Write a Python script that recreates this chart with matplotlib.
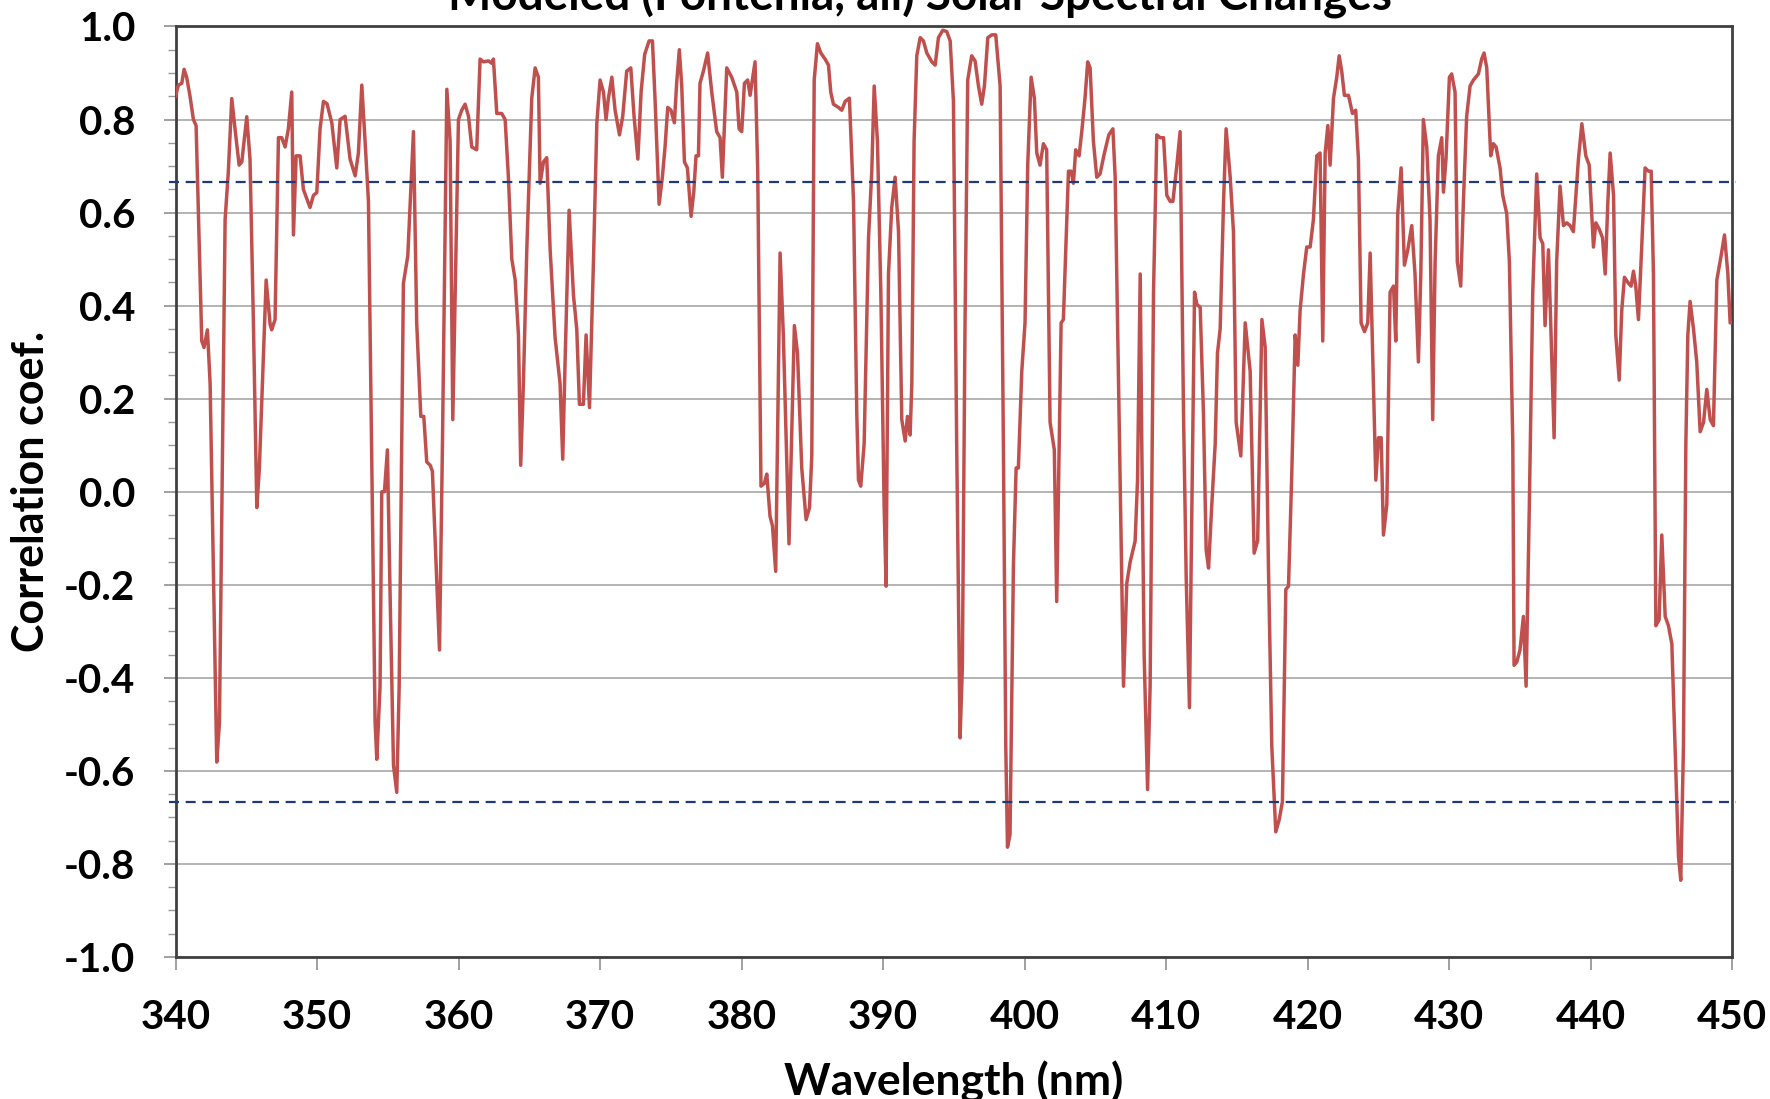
import matplotlib
matplotlib.use("Agg")
import matplotlib.pyplot as plt
from matplotlib.ticker import MultipleLocator

plt.rcParams['font.family'] = ['Lato', 'DejaVu Sans']
plt.rcParams['font.weight'] = 'bold'

# wavelength (nm) and correlation coefficient of the modeled spectral changes
wavelength = [
    340.0, 340.2, 340.44, 340.6, 340.79, 341.02, 341.26, 341.45, 341.85, 342.01,
    342.25, 342.44, 342.91, 343.1, 343.5, 343.73, 343.97, 344.2, 344.49, 344.68,
    345.03, 345.26, 345.5, 345.74, 345.92, 346.4, 346.68, 346.79, 347.03, 347.27,
    347.5, 347.74, 347.97, 348.21, 348.33, 348.52, 348.8, 349.03, 349.27, 349.5,
    349.74, 349.98, 350.21, 350.45, 350.7, 351.04, 351.39, 351.63, 351.98, 352.33,
    352.69, 352.92, 353.16, 353.39, 353.63, 354.1, 354.22, 354.45, 354.57, 354.76,
    354.97, 355.16, 355.4, 355.63, 355.8, 356.1, 356.41, 356.81, 357.04, 357.33,
    357.54, 357.75, 357.99, 358.15, 358.65, 358.86, 359.17, 359.4, 359.59, 359.99,
    360.22, 360.46, 360.7, 360.93, 361.28, 361.52, 361.76, 362.11, 362.34, 362.46,
    362.7, 363.05, 363.29, 363.52, 363.76, 364.0, 364.23, 364.39, 364.58, 364.82,
    365.17, 365.41, 365.64, 365.76, 366.0, 366.23, 366.47, 366.82, 367.17, 367.36,
    367.53, 367.81, 368.12, 368.35, 368.54, 368.82, 369.01, 369.25, 369.53, 369.77,
    370.0, 370.24, 370.42, 370.59, 370.83, 371.06, 371.37, 371.6, 371.88, 372.17,
    372.4, 372.67, 372.9, 373.15, 373.46, 373.7, 373.88, 374.17, 374.4, 374.59,
    374.78, 375.01, 375.25, 375.41, 375.6, 375.77, 375.96, 376.17, 376.43, 376.62,
    376.78, 376.95, 377.06, 377.3, 377.6, 377.89, 378.24, 378.48, 378.64, 378.95,
    379.3, 379.66, 379.82, 380.01, 380.2, 380.43, 380.6, 380.76, 380.95, 381.14,
    381.37, 381.61, 381.78, 382.01, 382.18, 382.41, 382.72, 382.95, 383.35, 383.73,
    383.95, 384.25, 384.56, 384.8, 384.96, 385.13, 385.36, 385.6, 385.9, 386.14,
    386.3, 386.49, 386.85, 387.08, 387.32, 387.62, 387.91, 388.14, 388.26, 388.42,
    388.66, 388.97, 389.2, 389.37, 389.6, 389.84, 390.07, 390.21, 390.38, 390.61,
    390.85, 391.09, 391.32, 391.56, 391.72, 391.91, 392.03, 392.19, 392.38, 392.62,
    392.85, 393.09, 393.44, 393.68, 393.91, 394.22, 394.5, 394.74, 394.97, 395.2,
    395.44, 395.6, 395.79, 395.98, 396.26, 396.5, 396.74, 396.97, 397.16, 397.4,
    397.68, 397.96, 398.27, 398.5, 398.67, 398.79, 398.97, 399.21, 399.4, 399.56,
    399.8, 400.03, 400.22, 400.46, 400.69, 400.86, 401.09, 401.33, 401.56, 401.8,
    402.1, 402.27, 402.58, 402.74, 403.1, 403.28, 403.45, 403.61, 403.85, 404.04,
    404.27, 404.46, 404.63, 404.86, 405.1, 405.33, 405.64, 405.95, 406.24, 406.4,
    406.71, 406.99, 407.22, 407.46, 407.81, 407.98, 408.17, 408.28, 408.45, 408.69,
    408.87, 409.11, 409.34, 409.58, 409.82, 410.05, 410.29, 410.48, 410.76, 410.99,
    411.23, 411.42, 411.65, 411.77, 412.01, 412.17, 412.41, 412.64, 412.83, 413.0,
    413.23, 413.47, 413.63, 413.82, 414.06, 414.24, 414.53, 414.76, 414.95, 415.28,
    415.59, 415.94, 416.22, 416.47, 416.77, 417.0, 417.23, 417.47, 417.75, 417.99,
    418.22, 418.46, 418.65, 418.88, 419.12, 419.31, 419.47, 419.71, 419.94, 420.18,
    420.41, 420.65, 420.88, 421.07, 421.24, 421.43, 421.59, 421.83, 422.06, 422.23,
    422.41, 422.6, 422.89, 423.17, 423.4, 423.59, 423.78, 424.02, 424.25, 424.42,
    424.65, 424.82, 425.01, 425.2, 425.36, 425.6, 425.83, 426.07, 426.23, 426.37,
    426.61, 426.84, 427.08, 427.36, 427.59, 427.83, 428.0, 428.18, 428.42, 428.65,
    428.84, 429.01, 429.24, 429.48, 429.6, 429.78, 430.02, 430.18, 430.42, 430.58,
    430.82, 431.01, 431.24, 431.48, 431.72, 432.07, 432.3, 432.47, 432.66, 432.94,
    433.13, 433.32, 433.6, 433.79, 434.07, 434.26, 434.5, 434.59, 434.78, 435.01,
    435.25, 435.44, 435.67, 435.91, 436.19, 436.43, 436.62, 436.78, 437.02, 437.18,
    437.42, 437.6, 437.84, 438.08, 438.31, 438.55, 438.78, 439.14, 439.38, 439.66,
    439.9, 440.2, 440.37, 440.6, 440.84, 441.03, 441.22, 441.38, 441.62, 441.78,
    442.02, 442.2, 442.39, 442.68, 442.86, 443.03, 443.19, 443.38, 443.62, 443.85,
    444.09, 444.28, 444.44, 444.61, 444.84, 445.03, 445.27, 445.5, 445.74, 445.97,
    446.21, 446.37, 446.56, 446.73, 446.87, 447.03, 447.27, 447.5, 447.74, 447.98,
    448.21, 448.45, 448.68, 448.92, 449.22, 449.46, 449.7, 449.86, 450.0,
]
correlation = [
    0.85, 0.874, 0.878, 0.908, 0.89, 0.85, 0.80, 0.787, 0.324, 0.31,
    0.348, 0.233, -0.581, -0.496, 0.585, 0.689, 0.845, 0.78, 0.702, 0.709,
    0.806, 0.715, 0.363, -0.034, 0.05, 0.455, 0.36, 0.348, 0.37, 0.761,
    0.761, 0.741, 0.78, 0.859, 0.552, 0.722, 0.722, 0.65, 0.63, 0.611,
    0.637, 0.643, 0.78, 0.839, 0.834, 0.793, 0.696, 0.80, 0.807, 0.715,
    0.679, 0.728, 0.874, 0.754, 0.624, -0.496, -0.575, -0.418, 0.0, 0.0,
    0.09, -0.223, -0.588, -0.646, -0.418, 0.448, 0.507, 0.774, 0.363, 0.162,
    0.162, 0.064, 0.057, 0.044, -0.34, 0.103, 0.865, 0.754, 0.155, 0.80,
    0.82, 0.833, 0.807, 0.741, 0.735, 0.93, 0.924, 0.926, 0.921, 0.93,
    0.813, 0.813, 0.80, 0.676, 0.50, 0.455, 0.337, 0.057, 0.233, 0.52,
    0.846, 0.911, 0.891, 0.663, 0.709, 0.718, 0.52, 0.331, 0.233, 0.07,
    0.285, 0.605, 0.422, 0.35, 0.188, 0.188, 0.337, 0.181, 0.494, 0.793,
    0.885, 0.859, 0.80, 0.846, 0.891, 0.82, 0.767, 0.807, 0.904, 0.911,
    0.807, 0.715, 0.86, 0.94, 0.969, 0.969, 0.846, 0.618, 0.676, 0.741,
    0.826, 0.82, 0.793, 0.878, 0.95, 0.872, 0.709, 0.696, 0.592, 0.644,
    0.722, 0.722, 0.878, 0.904, 0.943, 0.859, 0.774, 0.761, 0.676, 0.911,
    0.891, 0.859, 0.78, 0.774, 0.878, 0.885, 0.852, 0.885, 0.924, 0.689,
    0.012, 0.018, 0.038, -0.053, -0.073, -0.171, 0.513, 0.337, -0.112, 0.357,
    0.298, 0.051, -0.06, -0.034, 0.077, 0.885, 0.963, 0.943, 0.93, 0.917,
    0.859, 0.833, 0.826, 0.82, 0.839, 0.846, 0.624, 0.168, 0.025, 0.012,
    0.103, 0.546, 0.689, 0.872, 0.754, 0.429, -0.027, -0.203, 0.468, 0.611,
    0.676, 0.559, 0.155, 0.109, 0.162, 0.122, 0.233, 0.754, 0.937, 0.976,
    0.969, 0.943, 0.924, 0.917, 0.976, 0.992, 0.989, 0.969, 0.84, 0.103,
    -0.529, -0.379, 0.363, 0.885, 0.937, 0.926, 0.872, 0.833, 0.872, 0.976,
    0.982, 0.982, 0.872, 0.103, -0.548, -0.764, -0.737, -0.158, 0.051, 0.051,
    0.259, 0.363, 0.702, 0.891, 0.846, 0.728, 0.702, 0.748, 0.735, 0.149,
    0.09, -0.236, 0.363, 0.37, 0.689, 0.689, 0.663, 0.735, 0.722, 0.774,
    0.846, 0.924, 0.911, 0.754, 0.676, 0.683, 0.728, 0.767, 0.78, 0.676,
    0.103, -0.418, -0.197, -0.151, -0.106, 0.025, 0.468, 0.103, -0.353, -0.64,
    -0.418, 0.429, 0.767, 0.761, 0.761, 0.637, 0.624, 0.624, 0.702, 0.774,
    0.168, -0.184, -0.464, -0.158, 0.429, 0.403, 0.396, 0.168, -0.125, -0.164,
    -0.027, 0.103, 0.298, 0.35, 0.624, 0.78, 0.676, 0.559, 0.149, 0.077,
    0.363, 0.259, -0.132, -0.105, 0.37, 0.311, -0.158, -0.548, -0.731, -0.705,
    -0.666, -0.21, -0.203, 0.038, 0.337, 0.272, 0.39, 0.468, 0.526, 0.526,
    0.585, 0.722, 0.728, 0.324, 0.728, 0.787, 0.702, 0.846, 0.891, 0.937,
    0.904, 0.852, 0.852, 0.813, 0.82, 0.715, 0.363, 0.344, 0.363, 0.513,
    0.233, 0.025, 0.116, 0.116, -0.093, -0.027, 0.429, 0.442, 0.324, 0.598,
    0.696, 0.487, 0.52, 0.572, 0.468, 0.279, 0.468, 0.80, 0.741, 0.585,
    0.155, 0.494, 0.722, 0.761, 0.644, 0.715, 0.891, 0.898, 0.859, 0.494,
    0.442, 0.624, 0.807, 0.872, 0.885, 0.898, 0.93, 0.943, 0.911, 0.722,
    0.748, 0.741, 0.696, 0.637, 0.598, 0.494, 0.103, -0.373, -0.366, -0.34,
    -0.268, -0.418, -0.027, 0.429, 0.683, 0.546, 0.533, 0.357, 0.52, 0.363,
    0.116, 0.494, 0.657, 0.572, 0.578, 0.572, 0.559, 0.715, 0.791, 0.722,
    0.702, 0.526, 0.578, 0.565, 0.546, 0.468, 0.624, 0.728, 0.637, 0.337,
    0.24, 0.39, 0.461, 0.448, 0.442, 0.474, 0.442, 0.37, 0.533, 0.696,
    0.689, 0.689, 0.468, -0.288, -0.275, -0.093, -0.268, -0.288, -0.327, -0.548,
    -0.783, -0.835, -0.548, 0.103, 0.337, 0.409, 0.35, 0.279, 0.129, 0.149,
    0.22, 0.155, 0.142, 0.455, 0.507, 0.552, 0.468, 0.363, 0.363,
]

# significance level drawn as dashed lines at +/- this value
threshold = 0.666
threshold_span = [339.5, 450.3]

fig = plt.figure(figsize=(17.7, 10.99), dpi=100)
ax = fig.add_axes([0.0992, 0.1292, 0.8794, 0.8467])

ax.grid(axis='y', color='#b3b3b3', linewidth=1.4, zorder=0)
ax.plot(wavelength, correlation, color='#c0504d', linewidth=2.5, zorder=3)
for level in (threshold, -threshold):
    ax.plot(threshold_span, [level, level], color='#1f3a7a', linewidth=1.6,
            dashes=(4.5, 3), clip_on=False, zorder=4)

ax.set_xlim(340, 450)
ax.set_ylim(-1.0, 1.0)
ax.xaxis.set_major_locator(MultipleLocator(10))
ax.yaxis.set_major_locator(MultipleLocator(0.2))
ax.yaxis.set_minor_locator(MultipleLocator(0.05))
ax.yaxis.set_major_formatter(matplotlib.ticker.FormatStrFormatter('%.1f'))

ax.tick_params(axis='both', which='major', direction='out', length=9, width=1.3,
               color='#999999', labelsize=29)
ax.tick_params(axis='y', which='minor', direction='out', length=6, width=1.0,
               color='#999999')
ax.tick_params(axis='y', which='major', pad=20)
ax.tick_params(axis='x', which='major', pad=21)
for label in ax.get_xticklabels() + ax.get_yticklabels():
    label.set_fontweight('bold')

for spine in ax.spines.values():
    spine.set_color('#404040')
    spine.set_linewidth(2.0)

ax.set_xlabel('Wavelength (nm)', fontsize=32, fontweight='bold', labelpad=18)
ax.set_ylabel('Correlation coef.', fontsize=31, fontweight='bold', labelpad=9)

fig.text(0.52, 1 - 9 / 1099, 'Modeled (Fontenla, all) Solar Spectral Changes',
         ha='center', va='baseline', fontsize=33, fontweight='bold')

fig.savefig('out.png', dpi=100, facecolor='white')
